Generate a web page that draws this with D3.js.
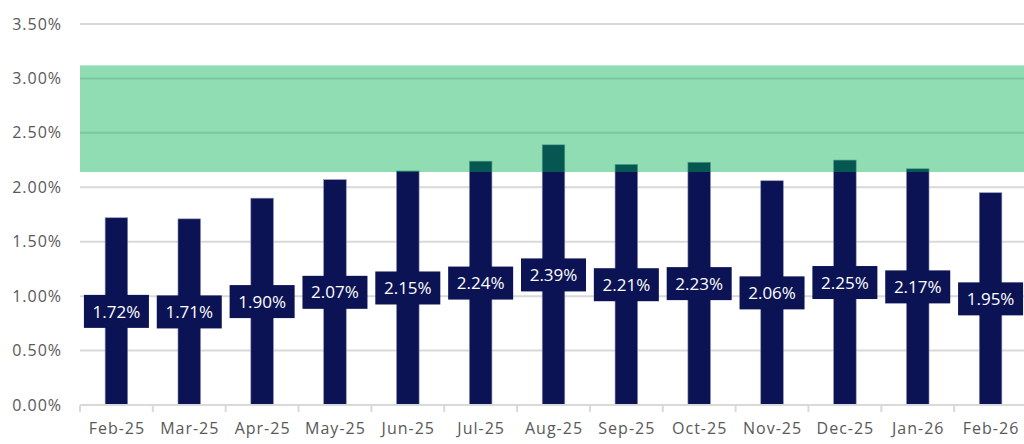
<!DOCTYPE html>
<html>
<head>
<meta charset="utf-8">
<script src="https://cdn.jsdelivr.net/npm/d3@7"></script>
<style>
  body { margin: 0; background: #fff; }
  text { font-family: "Open Sans", "Lato", sans-serif; }
</style>
</head>
<body>
<div id="chart"></div>
<script>
const months = ['Feb-25', 'Mar-25', 'Apr-25', 'May-25', 'Jun-25', 'Jul-25', 'Aug-25',
  'Sep-25', 'Oct-25', 'Nov-25', 'Dec-25', 'Jan-26', 'Feb-26'];
const rates = [1.72, 1.71, 1.90, 2.07, 2.15, 2.24, 2.39, 2.21, 2.23, 2.06, 2.25, 2.17, 1.95];
const yTicks = [0, 0.5, 1.0, 1.5, 2.0, 2.5, 3.0, 3.5];
const targetBand = [2.14, 3.12];

const width = 1024;
const height = 444;
const margin = { top: 24, right: -3, bottom: 39, left: 80 };

const svg = d3.select('#chart')
  .append('svg')
  .attr('width', width)
  .attr('height', height);

const x = d3.scaleBand()
  .domain(months)
  .range([margin.left, width - margin.right])
  .paddingInner(0.69)
  .paddingOuter(0.345);

const xTickScale = d3.scaleBand()
  .domain(months)
  .range([margin.left, width - margin.right]);

const y = d3.scaleLinear()
  .domain([0, 3.5])
  .range([height - margin.bottom, margin.top]);

// gridlines
svg.append('g')
  .selectAll('line')
  .data(yTicks.slice(1))
  .enter().append('line')
  .attr('x1', margin.left)
  .attr('x2', width)
  .attr('y1', d => y(d))
  .attr('y2', d => y(d))
  .style('stroke', '#d9d9d9')
  .style('stroke-width', '2px');

// y labels
svg.append('g')
  .selectAll('text')
  .data(yTicks)
  .enter().append('text')
  .attr('x', 62)
  .attr('y', d => y(d))
  .attr('dy', '0.35em')
  .style('text-anchor', 'end')
  .style('font-size', '16px')
  .style('letter-spacing', '1px')
  .style('fill', '#595959')
  .text(d => d.toFixed(2) + '%');

// bars
svg.append('g')
  .selectAll('rect')
  .data(rates)
  .enter().append('rect')
  .attr('x', (d, i) => x(months[i]))
  .attr('y', d => y(d))
  .attr('width', x.bandwidth())
  .attr('height', d => y(0) - y(d))
  .attr('fill', '#0b1354')
  .style('stroke', '#8e92b5')
  .style('stroke-width', '0.6px');

// target band (translucent, over gridlines and bars)
svg.append('rect')
  .attr('x', margin.left)
  .attr('y', y(targetBand[1]))
  .attr('width', width - margin.left)
  .attr('height', y(targetBand[0]) - y(targetBand[1]))
  .attr('fill', '#00b050')
  .attr('fill-opacity', 0.435);

// x axis
const xAxis = svg.append('g')
  .attr('transform', `translate(0,${y(0)})`);

xAxis.append('line')
  .attr('x1', margin.left)
  .attr('x2', width)
  .style('stroke', '#d9d9d9')
  .style('stroke-width', '2px');

xAxis.selectAll('.tick')
  .data(months)
  .enter().append('line')
  .attr('class', 'tick')
  .attr('x1', d => xTickScale(d))
  .attr('x2', d => xTickScale(d))
  .attr('y1', 0)
  .attr('y2', 7)
  .style('stroke', '#d9d9d9')
  .style('stroke-width', '2px');

xAxis.selectAll('.xlabel')
  .data(months)
  .enter().append('text')
  .attr('class', 'xlabel')
  .attr('x', d => xTickScale(d) + xTickScale.bandwidth() / 2 + 0.5)
  .attr('y', 29)
  .style('text-anchor', 'middle')
  .style('font-size', '16px')
  .style('letter-spacing', '1px')
  .style('fill', '#595959')
  .text(d => d);

// data labels
const labels = svg.append('g')
  .selectAll('g')
  .data(rates)
  .enter().append('g')
  .attr('transform', (d, i) =>
    `translate(${x(months[i]) + x.bandwidth() / 2},${(y(d) + y(0)) / 2})`);

labels.append('rect')
  .attr('x', -32.5)
  .attr('y', -16.5)
  .attr('width', 65)
  .attr('height', 33)
  .attr('fill', '#0b1354');

labels.append('text')
  .attr('dy', '0.36em')
  .style('text-anchor', 'middle')
  .style('font-size', '17px')
  .style('fill', '#fff')
  .text(d => d.toFixed(2) + '%');
</script>
</body>
</html>
